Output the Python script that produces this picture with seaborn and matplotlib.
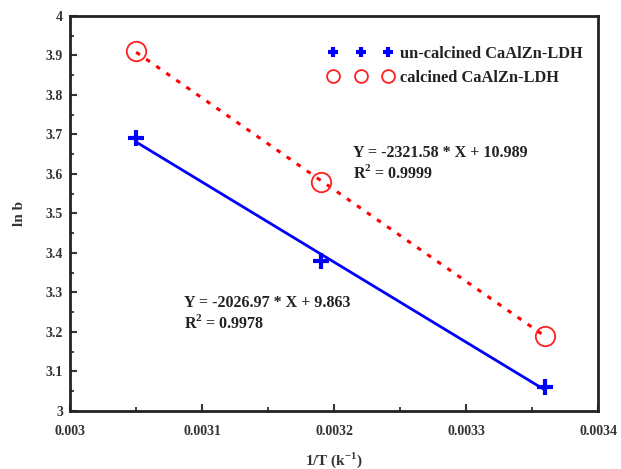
import numpy as np
import pandas as pd
import matplotlib
matplotlib.use("Agg")
import matplotlib.pyplot as plt
import seaborn as sns

# Data
inv_T = [0.00305, 0.00319, 0.00336]
ln_b_uncalcined = [3.69, 3.38, 3.06]
ln_b_calcined = [3.91, 3.58, 3.19]
labels = ["un-calcined CaAlZn-LDH", "calcined CaAlZn-LDH"]
eq_uncalcined = ["Y = -2026.97 * X + 9.863", "R$^2$ = 0.9978"]
eq_calcined = ["Y = -2321.58 * X + 10.989", "R$^2$ = 0.9999"]
x_ticks = [0.003, 0.0031, 0.0032, 0.0033, 0.0034]
x_ticklabels = ["0.003", "0.0031", "0.0032", "0.0033", "0.0034"]
y_ticks = [3, 3.1, 3.2, 3.3, 3.4, 3.5, 3.6, 3.7, 3.8, 3.9, 4]
y_ticklabels = ["3", "3.1", "3.2", "3.3", "3.4", "3.5", "3.6", "3.7", "3.8", "3.9", "4"]

sns.set_style("white")
plt.rcParams["font.family"] = ["Liberation Serif", "DejaVu Serif"]
plt.rcParams["font.weight"] = "bold"
plt.rcParams["mathtext.fontset"] = "custom"
plt.rcParams["mathtext.rm"] = "Liberation Serif:bold"

df = pd.DataFrame({"x": inv_T, "u": ln_b_uncalcined, "c": ln_b_calcined})

fig = plt.figure(figsize=(6.21, 4.69), dpi=100)
ax = fig.add_axes([0.113, 0.124, 0.85, 0.842])

# fitted lines
sns.regplot(data=df, x="x", y="u", ax=ax, ci=None, scatter=False, truncate=True,
            line_kws=dict(color="#0000ff", lw=2, ls="-"))
sns.regplot(data=df, x="x", y="c", ax=ax, ci=None, scatter=False, truncate=True,
            line_kws=dict(color="#ff0000", lw=2.2, ls=(0, (1.5, 2.5))))

# points
ax.plot(df["x"], df["u"], ls="none", marker="+", ms=11, mew=3, color="#0000ff",
        label=labels[0], zorder=5)
ax.plot(df["x"], df["c"], ls="none", marker="o", ms=14, mew=1.3, mfc="none",
        mec="#ff2020", label=labels[1], zorder=5)

ax.set_xlim(0.003, 0.0034)
ax.set_ylim(3, 4)
ax.set_xticks(x_ticks)
ax.set_xticklabels(x_ticklabels)
ax.set_yticks(y_ticks)
ax.set_yticklabels(y_ticklabels)
ax.set_xticks(np.array(x_ticks[:-1]) + 0.00005, minor=True)
ax.set_yticks(np.array(y_ticks[:-1]) + 0.05, minor=True)
ax.tick_params(axis="both", which="major", direction="in", length=5, width=1.5,
               labelsize=10, colors="#333333", labelcolor="#333333")
ax.tick_params(axis="x", which="major", pad=10)
ax.tick_params(axis="y", which="major", pad=5)
ax.tick_params(axis="both", which="minor", direction="in", length=3, width=1.3,
               colors="#333333")
ax.tick_params(left=True, bottom=True, which="both")
for lbl in ax.get_xticklabels() + ax.get_yticklabels():
    lbl.set_fontweight("bold")
for sp in ax.spines.values():
    sp.set_linewidth(2)
    sp.set_color("#222222")

ax.set_xlabel("1/T (k$^{-1}$)", fontsize=11, fontweight="bold", labelpad=9, color="#333333")
ax.set_ylabel("ln b", fontsize=11, fontweight="bold", labelpad=14, color="#333333")

ax.text(0.003214, 3.652, eq_calcined[0], fontsize=11.5, fontweight="bold", va="center", color="#222222")
ax.text(0.003214, 3.603, eq_calcined[1], fontsize=11.5, fontweight="bold", va="center", color="#222222")
ax.text(0.003086, 3.272, eq_uncalcined[0], fontsize=11.5, fontweight="bold", va="center", color="#222222")
ax.text(0.003086, 3.222, eq_uncalcined[1], fontsize=11.5, fontweight="bold", va="center", color="#222222")

leg = ax.legend(loc="upper left", bbox_to_anchor=(0.46, 0.962), frameon=False,
                numpoints=3, markerscale=0.66, handlelength=4.0, handletextpad=0.4,
                labelspacing=0.5, prop=dict(family="Liberation Serif", weight="bold", size=11.8))
for t in leg.get_texts():
    t.set_color("#222222")

fig.savefig("out.png", dpi=100)
